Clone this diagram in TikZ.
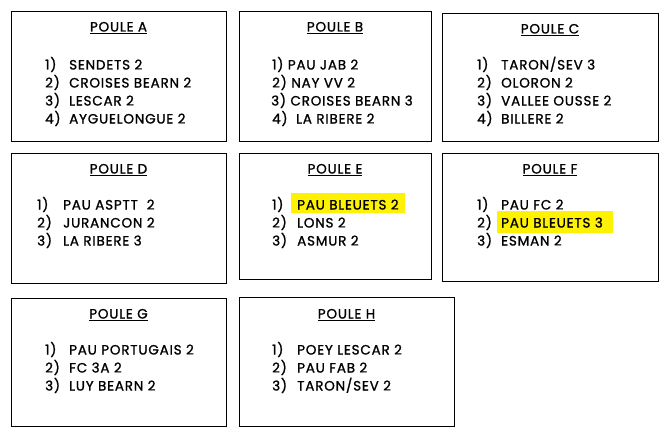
\documentclass[tikz,border=0pt]{standalone}
\usepackage{fontspec}
\setmainfont{Poppins}[LetterSpace=6,FakeBold=1.2]
\begin{document}
\begin{tikzpicture}[x=1pt,y=-1pt,
  box/.style={draw=black,line width=1.3pt,rectangle,inner sep=0pt,anchor=north west},
  ttl/.style={font=\fontsize{13.5}{14}\selectfont,anchor=base,inner sep=0pt},
  lbl/.style={font=\fontsize{13.5}{14}\selectfont,anchor=base west,inner sep=0pt},
  hl/.style={fill=yellow,draw=none,inner sep=0pt,anchor=north west}]
\useasboundingbox (0,0) rectangle (666,436);
% boxes
\node[box,minimum width=215pt,minimum height=130pt] (bA) at (11,11) {};
\node[box,minimum width=192pt,minimum height=130pt] (bB) at (239,11) {};
\node[box,minimum width=216pt,minimum height=128pt] (bC) at (442,13) {};
\node[box,minimum width=215pt,minimum height=130pt] (bD) at (11,153) {};
\node[box,minimum width=192pt,minimum height=126pt] (bE) at (239,153) {};
\node[box,minimum width=216pt,minimum height=128pt] (bF) at (442,153) {};
\node[box,minimum width=215pt,minimum height=128pt] (bG) at (11,298) {};
\node[box,minimum width=215pt,minimum height=129pt] (bH) at (239,297) {};
% highlights
\node[hl,minimum width=114pt,minimum height=20pt] (hE) at (291,193) {};
\node[hl,minimum width=116pt,minimum height=22pt] (hF) at (497,211) {};
% titles
\node[ttl] (tA) at (118.5,31.5) {\underline{POULE A}};
\node[ttl] (tB) at (335,31.5) {\underline{POULE B}};
\node[ttl] (tC) at (550,33.5) {\underline{POULE C}};
\node[ttl] (tD) at (118.5,173.5) {\underline{POULE D}};
\node[ttl] (tE) at (335,173.5) {\underline{POULE E}};
\node[ttl] (tF) at (550,173.5) {\underline{POULE F}};
\node[ttl] (tG) at (118.5,318.5) {\underline{POULE G}};
\node[ttl] (tH) at (346.5,318.5) {\underline{POULE H}};
% poule A
\node[lbl] (a1) at (45,69.5) {1)}; \node[lbl] (a1n) at (69,69.5) {SENDETS 2};
\node[lbl] (a2) at (45,87.5) {2)}; \node[lbl] (a2n) at (69,87.5) {CROISES BEARN 2};
\node[lbl] (a3) at (45,105.5) {3)}; \node[lbl] (a3n) at (69,105.5) {LESCAR 2};
\node[lbl] (a4) at (45,123.5) {4)}; \node[lbl] (a4n) at (69,123.5) {AYGUELONGUE 2};
% poule B
\node[lbl] (b1) at (272,69.5) {1) PAU JAB 2};
\node[lbl] (b2) at (272,87.5) {2) NAY VV 2};
\node[lbl] (b3) at (271,105.5) {3) CROISES BEARN 3};
\node[lbl] (b4) at (272,123.5) {4)}; \node[lbl] (b4n) at (296,123.5) {LA RIBERE 2};
% poule C
\node[lbl] (c1) at (477,69.5) {1)}; \node[lbl] (c1n) at (501,69.5) {TARON/SEV 3};
\node[lbl] (c2) at (477,87.5) {2)}; \node[lbl] (c2n) at (501,87.5) {OLORON 2};
\node[lbl] (c3) at (477,105.5) {3)}; \node[lbl] (c3n) at (501,105.5) {VALLEE OUSSE 2};
\node[lbl] (c4) at (477,123.5) {4)}; \node[lbl] (c4n) at (501,123.5) {BILLERE 2};
% poule D
\node[lbl] (d1) at (37,209.5) {1)}; \node[lbl] (d1n) at (63,209.5) {PAU ASPTT\ \ 2};
\node[lbl] (d2) at (37,227.5) {2)}; \node[lbl] (d2n) at (63,227.5) {JURANCON 2};
\node[lbl] (d3) at (37,245.5) {3)}; \node[lbl] (d3n) at (63,245.5) {LA RIBERE 3};
% poule E
\node[lbl] (e1) at (272,209.5) {1)}; \node[lbl] (e1n) at (297,209.5) {PAU BLEUETS 2};
\node[lbl] (e2) at (272,227.5) {2)}; \node[lbl] (e2n) at (297,227.5) {LONS 2};
\node[lbl] (e3) at (272,245.5) {3)}; \node[lbl] (e3n) at (297,245.5) {ASMUR 2};
% poule F
\node[lbl] (f1) at (477,209.5) {1)}; \node[lbl] (f1n) at (501,209.5) {PAU FC 2};
\node[lbl] (f2) at (477,227.5) {2)}; \node[lbl] (f2n) at (501,227.5) {PAU BLEUETS 3};
\node[lbl] (f3) at (477,245.5) {3)}; \node[lbl] (f3n) at (501,245.5) {ESMAN 2};
% poule G
\node[lbl] (g1) at (45,354.5) {1)}; \node[lbl] (g1n) at (69,354.5) {PAU PORTUGAIS 2};
\node[lbl] (g2) at (45,372.5) {2)}; \node[lbl] (g2n) at (69,372.5) {FC 3A 2};
\node[lbl] (g3) at (45,390.5) {3)}; \node[lbl] (g3n) at (69,390.5) {LUY BEARN 2};
% poule H
\node[lbl] (h1) at (272,354.5) {1)}; \node[lbl] (h1n) at (297,354.5) {POEY LESCAR 2};
\node[lbl] (h2) at (272,372.5) {2)}; \node[lbl] (h2n) at (297,372.5) {PAU FAB 2};
\node[lbl] (h3) at (272,390.5) {3)}; \node[lbl] (h3n) at (297,390.5) {TARON/SEV 2};
\end{tikzpicture}
\end{document}
